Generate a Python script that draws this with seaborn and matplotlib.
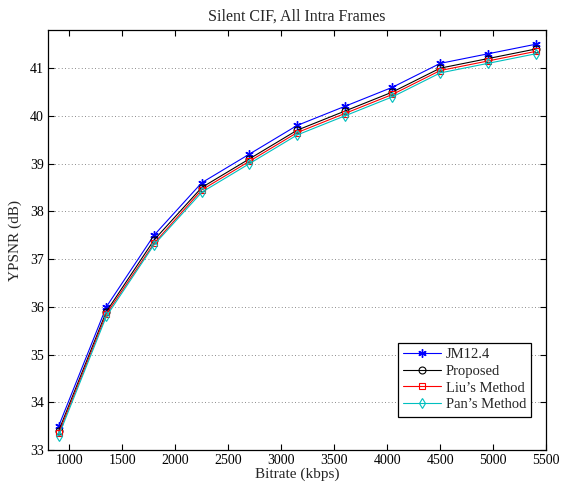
import matplotlib
matplotlib.use("Agg")
import matplotlib.pyplot as plt
import seaborn as sns
import pandas as pd

# Bitrate points (kbps) and Y-PSNR results (dB) per encoder
bitrate = [900, 1350, 1800, 2250, 2700, 3150, 3600, 4050, 4500, 4950, 5400]
jm124 = [33.50, 36.00, 37.50, 38.60, 39.20, 39.80, 40.20, 40.60, 41.10, 41.30, 41.50]
proposed = [33.40, 35.90, 37.40, 38.50, 39.10, 39.70, 40.10, 40.50, 41.00, 41.20, 41.40]
liu = [33.35, 35.85, 37.33, 38.45, 39.05, 39.65, 40.05, 40.45, 40.95, 41.15, 41.35]
pan = [33.30, 35.80, 37.30, 38.40, 39.00, 39.60, 40.00, 40.40, 40.90, 41.10, 41.30]

series_names = ["JM12.4", "Proposed", "Liu\u2019s Method", "Pan\u2019s Method"]
series_values = [jm124, proposed, liu, pan]
colors = ["#0000ff", "#000000", "#ff0000", "#00bfbf"]
markers = [(6, 2, 0), "o", "s", "d"]

x_ticks = [1000, 1500, 2000, 2500, 3000, 3500, 4000, 4500, 5000, 5500]
y_ticks = [33, 34, 35, 36, 37, 38, 39, 40, 41]

sns.set_theme(style="white")
plt.rcParams["font.family"] = ["Liberation Serif", "DejaVu Serif"]

fig = plt.figure(figsize=(5.61, 4.83), dpi=100)
ax = fig.add_axes([0.0856, 0.068, 0.888, 0.870])

for name, vals, col, mk in zip(series_names, series_values, colors, markers):
    df = pd.DataFrame({"Bitrate": bitrate, "YPSNR": vals})
    sns.lineplot(
        data=df, x="Bitrate", y="YPSNR", ax=ax, color=col, marker=mk,
        markersize=6 if name == "JM12.4" else 5, markerfacecolor="none",
        markeredgecolor=col, markeredgewidth=1.0 if name == "JM12.4" else 0.8,
        linewidth=0.8, label=name,
    )

ax.set_xlim(800, 5500)
ax.set_ylim(33, 41.8)
ax.set_xticks(x_ticks)
ax.set_yticks(y_ticks)
ax.tick_params(direction="in", length=4, width=0.8, top=True, right=True,
               bottom=True, left=True, labelsize=10, colors="black", pad=3)
ax.yaxis.grid(True, linestyle=(0, (1, 3)), color="#666666", linewidth=0.6)
ax.xaxis.grid(False)
for sp in ax.spines.values():
    sp.set_color("black")
    sp.set_linewidth(0.9)

ax.set_title("Silent CIF, All Intra Frames", fontsize=11.5, pad=7)
ax.set_xlabel("Bitrate (kbps)", fontsize=11, labelpad=0)
ax.set_ylabel("YPSNR (dB)", fontsize=11, labelpad=6)

leg = ax.legend(loc="lower right", bbox_to_anchor=(0.970, 0.08), fontsize=10.5,
                frameon=True, fancybox=False, framealpha=1, edgecolor="black",
                handlelength=2.6, handletextpad=0.3, borderpad=0.35,
                labelspacing=0.25, borderaxespad=0)
leg.get_frame().set_linewidth(0.9)

fig.savefig("out.png", dpi=100)
